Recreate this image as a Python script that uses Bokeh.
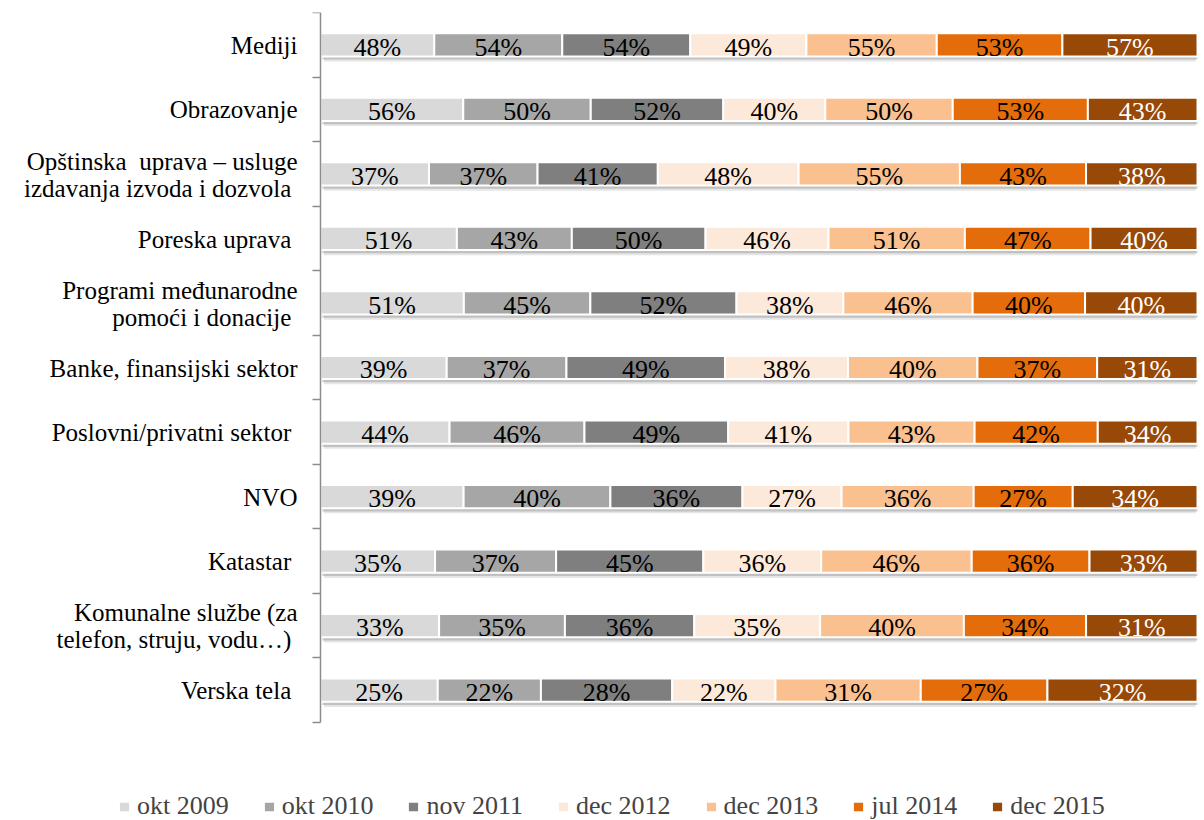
import numpy as np
from bokeh.plotting import figure
from bokeh.models import Range1d, FixedTicker, Legend, LegendItem
from bokeh.embed import file_html
from bokeh.resources import INLINE
from bokeh.core.properties import value

NB = "\u00a0"
categories = [
    "Mediji",
    "Obrazovanje",
    "Opštinska" + NB + " uprava – usluge\nizdavanja izvoda i dozvola" + NB,
    "Poreska uprava" + NB,
    "Programi međunarodne\npomoći i donacije" + NB,
    "Banke, finansijski sektor",
    "Poslovni/privatni sektor" + NB,
    "NVO",
    "Katastar" + NB,
    "Komunalne službe (za\ntelefon, struju, vodu…)" + NB,
    "Verska tela" + NB,
]
series_names = ["okt 2009", "okt 2010", "nov 2011", "dec 2012", "dec 2013", "jul 2014", "dec 2015"]
okt_2009 = [48, 56, 37, 51, 51, 39, 44, 39, 35, 33, 25]
okt_2010 = [54, 50, 37, 43, 45, 37, 46, 40, 37, 35, 22]
nov_2011 = [54, 52, 41, 50, 52, 49, 49, 36, 45, 36, 28]
dec_2012 = [49, 40, 48, 46, 38, 38, 41, 27, 36, 35, 22]
dec_2013 = [55, 50, 55, 51, 46, 40, 43, 36, 46, 40, 31]
jul_2014 = [53, 53, 43, 47, 40, 37, 42, 27, 36, 34, 27]
dec_2015 = [57, 43, 38, 40, 40, 31, 34, 34, 33, 31, 32]

colors = ["#d9d9d9", "#a6a6a6", "#7f7f7f", "#fde9d9", "#fac090", "#e46c0a", "#984807"]
text_colors = ["black", "black", "black", "black", "black", "black", "white"]

FONT = "Liberation Serif"

vals = np.array([okt_2009, okt_2010, nov_2011, dec_2012, dec_2013, jul_2014, dec_2015], dtype=float)
totals = vals.sum(axis=0)
shares = vals / totals
right = np.cumsum(shares, axis=0)
left = right - shares

n = len(categories)
ys = np.array([n - i - 0.5 for i in range(n)])
BAR_H = 0.36

# layout (pixels)
FIG_W, FIG_H = 1200, 820
TOP = 12
BAND_PX = 710 / n
AX_X = 320
BAR_W_PX = 877
frame_h = FIG_H - TOP
y_start = n - frame_h / BAND_PX
x_start = -AX_X / BAR_W_PX
x_end = x_start + FIG_W / BAR_W_PX

p = figure(width=FIG_W, height=FIG_H, x_range=Range1d(x_start, x_end), y_range=Range1d(y_start, n),
           output_backend="svg", toolbar_location=None,
           min_border_left=0, min_border_right=0, min_border_top=TOP, min_border_bottom=0)
p.outline_line_color = None
p.xgrid.visible = False
p.ygrid.visible = False
p.xaxis.visible = False

# soft shadow under bars
p.hbar(y=ys - 0.08, left=np.zeros(n) + 0.004, right=np.ones(n) - 0.002, height=BAR_H,
       fill_color="#9a9a9a", fill_alpha=0.25, line_color=None)
p.hbar(y=ys - 0.05, left=np.zeros(n) + 0.002, right=np.ones(n), height=BAR_H,
       fill_color="#8a8a8a", fill_alpha=0.4, line_color=None)

renderers = []
for k, name in enumerate(series_names):
    r = p.hbar(y=ys, left=left[k], right=right[k], height=BAR_H,
               fill_color=colors[k], line_color="white", line_width=2)
    renderers.append(r)
    mids = (left[k] + right[k]) / 2
    labels = [f"{int(v)}%" for v in vals[k]]
    p.text(x=mids, y=ys - 0.035, text=labels, text_align="center", text_baseline="middle",
           text_font=value(FONT), text_font_size="26px", text_color=text_colors[k])

# category labels
p.text(x=np.full(n, -23 / BAR_W_PX), y=ys - 0.01, text=categories, text_align="right",
       text_baseline="middle", text_font=value(FONT), text_font_size="25px",
       text_line_height=1.0, text_color="black")

# y axis: line + ticks at category boundaries
yax = p.yaxis[0]
yax.fixed_location = 0
yax.bounds = (0, n)
yax.ticker = FixedTicker(ticks=list(range(n + 1)))
yax.major_label_overrides = {i: "" for i in range(n + 1)}
yax.major_label_text_font_size = "0px"
yax.major_tick_out = 8
yax.major_tick_in = 0
yax.minor_tick_line_color = None
yax.major_tick_line_color = "#8c8c8c"
yax.major_tick_line_width = 1.5
yax.axis_line_color = "#8c8c8c"
yax.axis_line_width = 1.5

legend = Legend(items=[LegendItem(label=nm, renderers=[r]) for nm, r in zip(series_names, renderers)],
                orientation="horizontal", location=(117, -1))
legend.label_text_font = FONT
legend.label_text_font_size = "26px"
legend.glyph_width = 14
legend.glyph_height = 13
legend.label_standoff = 6
legend.spacing = 33
legend.padding = 0
legend.margin = 0
legend.border_line_color = None
legend.background_fill_alpha = 0
p.add_layout(legend, "center")

open("out.html", "w").write(file_html(p, INLINE))
